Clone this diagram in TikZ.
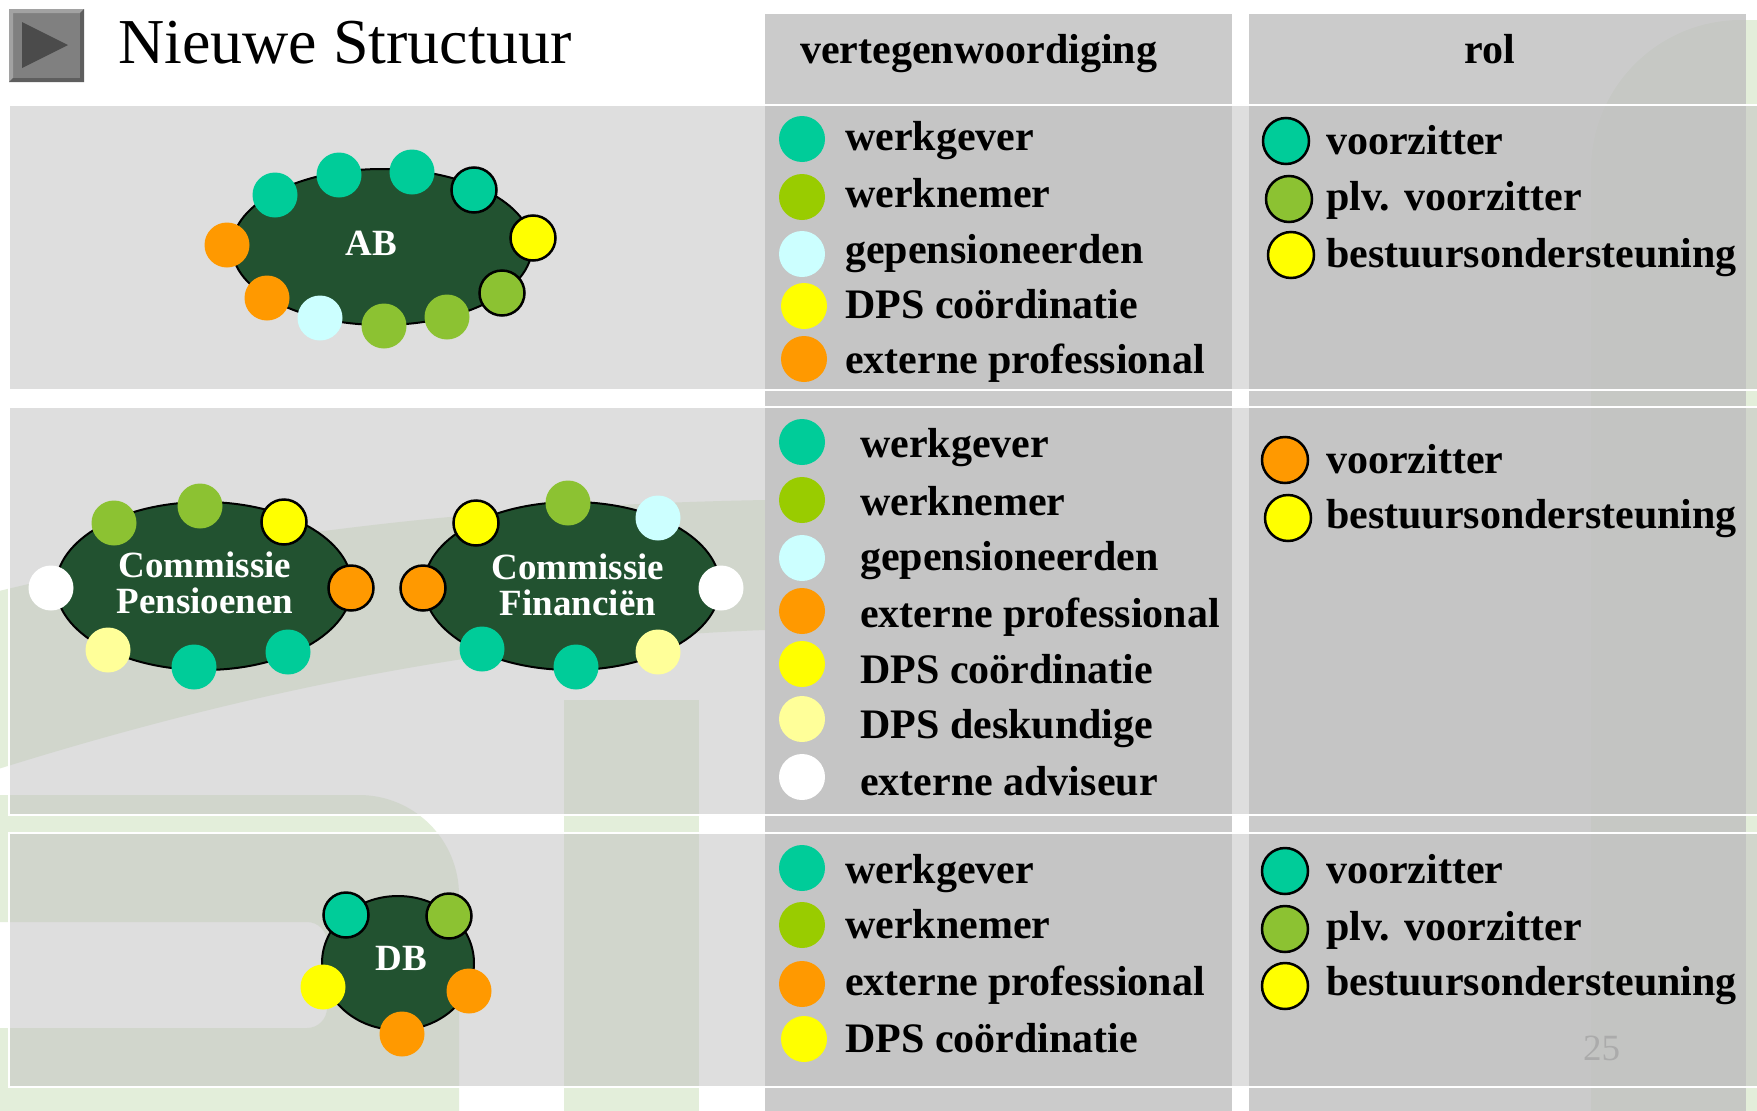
\documentclass[tikz,border=0pt]{standalone}
\usepackage{fontspec}
\setmainfont{Liberation Serif}
\usetikzlibrary{shapes.geometric}
\definecolor{wgcol}{HTML}{00CC99}
\definecolor{wncol}{HTML}{99CC00}
\definecolor{plvcol}{HTML}{8CC232}
\definecolor{gpcol}{HTML}{CCFFFF}
\definecolor{dpscol}{HTML}{FFFF00}
\definecolor{epcol}{HTML}{FF9900}
\definecolor{ddcol}{HTML}{FFFF99}
\definecolor{marble}{HTML}{225230}
\definecolor{bandgray}{HTML}{C1C1C1}
\definecolor{colgray}{HTML}{BFBFBF}
\definecolor{logogreen}{HTML}{E3EEDA}
\definecolor{numgray}{HTML}{ABABAB}
\definecolor{iconmid}{HTML}{808080}
\definecolor{iconlight}{HTML}{A2A2A2}
\definecolor{icondark}{HTML}{5E5E5E}
\definecolor{icontri}{HTML}{4B4B4B}
\tikzset{
  pdot/.style={circle, minimum size=45pt, inner sep=0pt},
  pring/.style={pdot, draw=black, line width=2.5pt},
  legdot/.style={circle, minimum size=46pt, inner sep=0pt},
  roledot/.style={legdot, draw=black, line width=2.5pt},
  legtext/.style={anchor=base west, inner sep=0pt, font=\fontsize{42}{48}\selectfont\bfseries},
  boardshape/.style={ellipse, draw=black, line width=2pt, fill=marble, inner sep=0pt},
  boardlabel/.style={inner sep=0pt, text=white, align=center, font=\fontsize{37}{35.5}\selectfont\bfseries},
  bandbox/.style={fill=bandgray, fill opacity=.53, draw=white, line width=2pt},
  colbox/.style={fill=colgray, fill opacity=.8},
}
\begin{document}
\begin{tikzpicture}[x=1pt,y=-1pt]
  \useasboundingbox (0,0) rectangle (1757,1111);
  \fill[white] (0,0) rectangle (1757,1111);
  \fill[logogreen] (-5,592) .. controls (250,530) and (500,505) .. (765,500)
    -- (765,630) .. controls (500,640) and (250,690) .. (-5,770) -- cycle;
  \fill[logogreen, even odd rule] (-5,795) -- (359,795) arc[start angle=-90, end angle=0, radius=100]
    -- (459,1120) -- (-5,1120) -- cycle
    (-5,922) -- (307,922) arc[start angle=-90, end angle=0, radius=20]
    -- (327,1008) arc[start angle=0, end angle=90, radius=20] -- (-5,1028) -- cycle;
  \fill[logogreen] (564,700) rectangle (699,1120);
  \fill[logogreen] (1591,1120) -- (1591,170) arc[start angle=180, end angle=270, radius=150]
    -- (1760,20) -- (1760,1120) -- cycle;
  \fill[colbox] (765,14) rectangle (1232,1115);
  \fill[colbox] (1249,14) rectangle (1746,1115);
  \draw[bandbox] (9,105) rectangle (1760,390);
  \draw[bandbox] (9,407) rectangle (1760,815);
  \draw[bandbox] (9,833) rectangle (1760,1087);
  \fill[iconmid] (9,9) rectangle (84,82);
  \fill[iconlight] (9,9) -- (84,9) -- (80,13) -- (13,13) -- (13,78) -- (9,82) -- cycle;
  \fill[icondark] (84,82) -- (9,82) -- (13,78) -- (80,78) -- (80,13) -- (84,9) -- cycle;
  \fill[icontri] (22,22) -- (68,45) -- (22,68) -- cycle;
  \node[anchor=base west, inner sep=0pt, font=\fontsize{64}{70}\selectfont] (title) at (118,63) {Nieuwe Structuur};
  \node[legtext] (hvert) at (800,63) {vertegenwoordiging};
  \node[legtext, anchor=base] (hrol) at (1490,63) {rol};

  \node[boardshape, minimum width=300pt, minimum height=156pt] (ab) at (382,247) {};
  \node[boardlabel, anchor=base] (ablabel) at (371,255) {AB};
  \node[pdot, fill=wgcol] (ab1) at (275,195) {};
  \node[pdot, fill=wgcol] (ab2) at (339,175) {};
  \node[pdot, fill=wgcol] (ab3) at (412,172) {};
  \node[pring, fill=wgcol] (ab4) at (474,190) {};
  \node[pring, fill=dpscol] (ab5) at (533,238) {};
  \node[pring, fill=plvcol] (ab6) at (502,293) {};
  \node[pdot, fill=plvcol] (ab7) at (447,317) {};
  \node[pdot, fill=plvcol] (ab8) at (384,326) {};
  \node[pdot, fill=gpcol] (ab9) at (320,318) {};
  \node[pdot, fill=epcol] (ab10) at (267,298) {};
  \node[pdot, fill=epcol] (ab11) at (227,245) {};

  \node[boardshape, minimum width=296pt, minimum height=168pt] (cp) at (204,586) {};
  \node[boardlabel] (cplabel) at (205,583) {Commissie\\Pensioenen};
  \node[pdot, fill=plvcol] (cp1) at (114,523) {};
  \node[pdot, fill=plvcol] (cp2) at (200,506) {};
  \node[pring, fill=dpscol] (cp3) at (284,522) {};
  \node[pring, fill=epcol] (cp4) at (351,588) {};
  \node[pdot, fill=wgcol] (cp5) at (288,652) {};
  \node[pdot, fill=wgcol] (cp6) at (194,667) {};
  \node[pdot, fill=ddcol] (cp7) at (108,650) {};
  \node[pdot, fill=white] (cp8) at (51,588) {};

  \node[boardshape, minimum width=296pt, minimum height=168pt] (cf) at (572,586) {};
  \node[boardlabel] (cflabel) at (578,585) {Commissie\\Financiën};
  \node[pring, fill=dpscol] (cf1) at (476,523) {};
  \node[pdot, fill=plvcol] (cf2) at (568,503) {};
  \node[pdot, fill=gpcol] (cf3) at (658,518) {};
  \node[pdot, fill=white] (cf4) at (721,588) {};
  \node[pdot, fill=ddcol] (cf5) at (658,652) {};
  \node[pdot, fill=wgcol] (cf6) at (576,667) {};
  \node[pdot, fill=wgcol] (cf7) at (482,649) {};
  \node[pring, fill=epcol] (cf8) at (423,588) {};

  \node[boardshape, minimum width=152pt, minimum height=134pt] (db) at (398,963) {};
  \node[boardlabel, anchor=base] (dblabel) at (401,970) {DB};
  \node[pring, fill=wgcol] (db1) at (346,915) {};
  \node[pring, fill=plvcol] (db2) at (449,916) {};
  \node[pdot, fill=epcol] (db3) at (469,991) {};
  \node[pdot, fill=epcol] (db4) at (402,1034) {};
  \node[pdot, fill=dpscol] (db5) at (323,987) {};

  \node[legdot, fill=wgcol] (va1) at (802,139) {};
  \node[legdot, fill=wncol] (va2) at (802,197) {};
  \node[legdot, fill=gpcol] (va3) at (802,254) {};
  \node[legdot, fill=dpscol] (va4) at (804,306) {};
  \node[legdot, fill=epcol] (va5) at (804,359) {};
  \node[legtext] (vat1) at (845,150) {werkgever};
  \node[legtext] (vat2) at (845,207) {werknemer};
  \node[legtext] (vat3) at (845,263) {gepensioneerden};
  \node[legtext] (vat4) at (845,318) {DPS coördinatie};
  \node[legtext] (vat5) at (845,373) {externe professional};
  \node[roledot, fill=wgcol] (ra1) at (1286,141) {};
  \node[roledot, fill=plvcol] (ra2) at (1289,199) {};
  \node[roledot, fill=dpscol] (ra3) at (1291,255) {};
  \node[legtext] (rat1) at (1326,154) {voorzitter};
  \node[legtext] (rat2) at (1326,210) {plv. voorzitter};
  \node[legtext] (rat3) at (1326,267) {bestuursondersteuning};

  \node[legdot, fill=wgcol] (vb1) at (802,442) {};
  \node[legdot, fill=wncol] (vb2) at (802,500) {};
  \node[legdot, fill=gpcol] (vb3) at (802,558) {};
  \node[legdot, fill=epcol] (vb4) at (802,611) {};
  \node[legdot, fill=dpscol] (vb5) at (802,664) {};
  \node[legdot, fill=ddcol] (vb6) at (802,719) {};
  \node[legdot, fill=white] (vb7) at (802,777) {};
  \node[legtext] (vbt1) at (860,457) {werkgever};
  \node[legtext] (vbt2) at (860,515) {werknemer};
  \node[legtext] (vbt3) at (860,570) {gepensioneerden};
  \node[legtext] (vbt4) at (860,627) {externe professional};
  \node[legtext] (vbt5) at (860,683) {DPS coördinatie};
  \node[legtext] (vbt6) at (860,738) {DPS deskundige};
  \node[legtext] (vbt7) at (860,795) {externe adviseur};
  \node[roledot, fill=epcol] (rb1) at (1285,460) {};
  \node[roledot, fill=dpscol] (rb2) at (1288,518) {};
  \node[legtext] (rbt1) at (1326,473) {voorzitter};
  \node[legtext] (rbt2) at (1326,528) {bestuursondersteuning};

  \node[legdot, fill=wgcol] (vc1) at (802,868) {};
  \node[legdot, fill=wncol] (vc2) at (802,925) {};
  \node[legdot, fill=epcol] (vc3) at (802,984) {};
  \node[legdot, fill=dpscol] (vc4) at (804,1039) {};
  \node[legtext] (vct1) at (845,883) {werkgever};
  \node[legtext] (vct2) at (845,938) {werknemer};
  \node[legtext] (vct3) at (845,995) {externe professional};
  \node[legtext] (vct4) at (845,1052) {DPS coördinatie};
  \node[roledot, fill=wgcol] (rc1) at (1285,871) {};
  \node[roledot, fill=plvcol] (rc2) at (1285,929) {};
  \node[roledot, fill=dpscol] (rc3) at (1285,986) {};
  \node[legtext] (rct1) at (1326,883) {voorzitter};
  \node[legtext] (rct2) at (1326,940) {plv. voorzitter};
  \node[legtext] (rct3) at (1326,995) {bestuursondersteuning};

  \node[anchor=base west, inner sep=0pt, text=numgray, font=\fontsize{37}{40}\selectfont] (pagenr) at (1583,1060) {25};
\end{tikzpicture}
\end{document}
